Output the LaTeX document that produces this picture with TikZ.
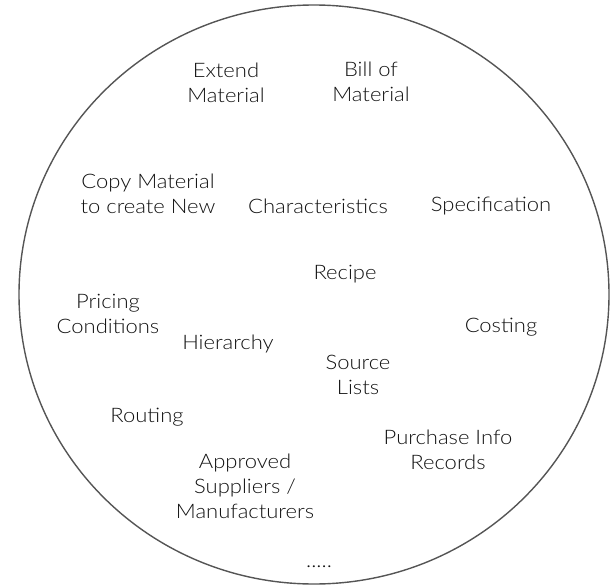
\documentclass[tikz,border=0pt]{standalone}
\usepackage{fontspec}
\setmainfont{Lato Light}[FakeStretch=1.1]
\usepackage{tikz}
\definecolor{rimgray}{HTML}{555555}
\definecolor{textgray}{HTML}{111111}
\tikzset{
  rim/.style  = {draw=rimgray, line width=1.4pt},
  item/.style = {align=center, inner sep=0pt, text=textgray,
                 font=\fontsize{20}{25}\selectfont}
}

\begin{document}
\begin{tikzpicture}[x=1pt, y=-1pt]
  \useasboundingbox (0,0) rectangle (610,586);
  \draw [rim] (314,294.5) ellipse [x radius=295, y radius=289.5];

  \node [item] (extend)    at (226,83)  {Extend\\Material};
  \node [item] (bom)       at (371,82)  {Bill of\\Material};
  \node [item] (copy)      at (148,194) {Copy Material\\to create New};
  \node [item] (charact)   at (318,206) {Characteristics};
  \node [item] (spec)      at (491,206) {Specification};
  \node [item] (recipe)    at (345,274) {Recipe};
  \node [item] (pricing)   at (108,314) {Pricing\\Conditions};
  \node [item] (hierarchy) at (228,344) {Hierarchy};
  \node [item] (costing)   at (501,327) {Costing};
  \node [item] (source)    at (358,375) {Source\\Lists};
  \node [item] (routing)   at (147,417) {Routing};
  \node [item] (purchase)  at (448,450) {Purchase Info\\Records};
  \node [item] (approved)  at (245,486) {Approved\\Suppliers /\\Manufacturers};
  \node [item, anchor=base] (more) at (319,567) {.....};
\end{tikzpicture}
\end{document}
